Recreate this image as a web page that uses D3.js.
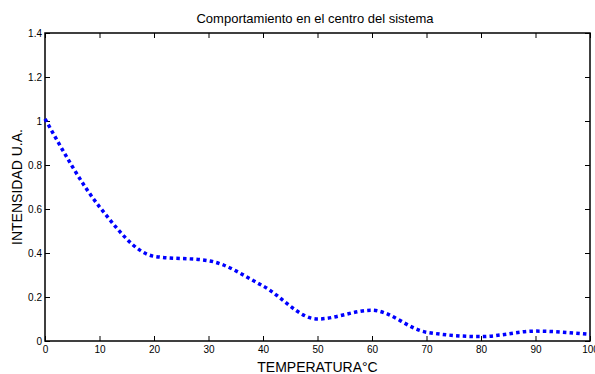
<!DOCTYPE html>
<html>
<head>
<meta charset="utf-8">
<script src="https://cdn.jsdelivr.net/npm/d3@7"></script>
<style>
  body { margin: 0; background: #fff; }
  text { font-family: "Liberation Sans", Arial, sans-serif; fill: #000; }
</style>
</head>
<body>
<script>
// data
var temps = [0, 10, 20, 30, 40, 50, 60, 70, 80, 90, 100];
var intensity = [1.01, 0.61, 0.385, 0.365, 0.25, 0.10, 0.14, 0.04, 0.02, 0.045, 0.03];
var xTicks = [0, 10, 20, 30, 40, 50, 60, 70, 80, 90, 100];
var yTicks = [0, 0.2, 0.4, 0.6, 0.8, 1, 1.2, 1.4];

var totalWidth = 595, totalHeight = 374;
var plotLeft = 45, plotRight = 590, plotTop = 33, plotBottom = 341;

var svg = d3.select("body").append("svg")
    .attr("width", totalWidth).attr("height", totalHeight);

var x = d3.scaleLinear().domain([0, 100]).range([plotLeft, plotRight]);
var y = d3.scaleLinear().domain([0, 1.4]).range([plotBottom, plotTop]);

// ticks (inward, on all four sides like matlab box)
var tickLen = 5;
var xAxisB = d3.axisBottom(x).tickValues(xTicks).tickSizeInner(-tickLen).tickSizeOuter(0).tickPadding(5);
var xAxisT = d3.axisTop(x).tickValues(xTicks).tickSizeInner(-tickLen).tickSizeOuter(0).tickFormat("");
var yAxisL = d3.axisLeft(y).tickValues(yTicks).tickSizeInner(-tickLen).tickSizeOuter(0).tickPadding(3)
    .tickFormat(function(d){ return d3.format("~g")(d); });
var yAxisR = d3.axisRight(y).tickValues(yTicks).tickSizeInner(-tickLen).tickSizeOuter(0).tickFormat("");

function styleAxis(g) {
    g.select(".domain").remove();
    g.selectAll(".tick line").attr("stroke", "#000").attr("stroke-width", 1);
    g.selectAll(".tick text").attr("font-size", "10px").attr("fill", "#333")
        .style("font-family", "'Liberation Sans', Arial, sans-serif");
}

svg.append("g").attr("transform", "translate(0," + plotBottom + ")").call(xAxisB).call(styleAxis);
svg.append("g").attr("transform", "translate(0," + plotTop + ")").call(xAxisT).call(styleAxis);
svg.append("g").attr("transform", "translate(" + plotLeft + ",0)").call(yAxisL).call(styleAxis);
svg.append("g").attr("transform", "translate(" + plotRight + ",0)").call(yAxisR).call(styleAxis);

// box
svg.append("rect")
    .attr("x", plotLeft).attr("y", plotTop)
    .attr("width", plotRight - plotLeft).attr("height", plotBottom - plotTop)
    .attr("fill", "none").attr("stroke", "#000").attr("stroke-width", 1.5);

// data line
var line = d3.line()
    .x(function(d, i){ return x(temps[i]); })
    .y(function(d){ return y(d); })
    .curve(d3.curveMonotoneX);

svg.append("path")
    .datum(intensity)
    .attr("d", line)
    .attr("fill", "none")
    .attr("stroke", "#0000ff")
    .attr("stroke-width", 3.5)
    .attr("stroke-dasharray", "3.5,3.2");

// labels
svg.append("text")
    .attr("x", 315).attr("y", 23)
    .attr("text-anchor", "middle").attr("font-size", "13px")
    .text("Comportamiento en el centro del sistema");

svg.append("text")
    .attr("x", (plotLeft + plotRight) / 2).attr("y", 372)
    .attr("text-anchor", "middle").attr("font-size", "14px")
    .text("TEMPERATURA°C");

svg.append("text")
    .attr("transform", "translate(22," + ((plotTop + plotBottom) / 2) + ") rotate(-90)")
    .attr("text-anchor", "middle").attr("font-size", "14px")
    .text("INTENSIDAD U.A.");
</script>
</body>
</html>
